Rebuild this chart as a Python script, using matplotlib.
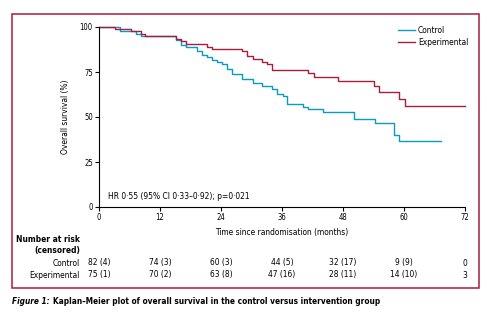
import matplotlib
matplotlib.use("Agg")
import matplotlib.pyplot as plt
from matplotlib.patches import Rectangle

plt.rcParams['font.family'] = ['DejaVu Sans']
plt.rcParams['font.stretch'] = 'condensed'

RED = '#a81d3d'
BLUE = '#0a9cbf'

# Kaplan-Meier steps (months, % surviving)
exp_t = [0, 3.1, 6.2, 8.2, 9.1, 15.1, 16.2, 17.2, 21.2, 22.2, 28.2, 29.2, 30.2,
         32.1, 33.1, 34.1, 41.2, 42.2, 47.1, 54.1, 55.1, 59.1, 60.1, 72]
exp_s = [100, 98.9, 97.6, 96.1, 95.0, 93.3, 92.0, 90.4, 89.1, 87.6, 86.5, 83.7, 82.2,
         80.6, 79.3, 76.0, 74.4, 72.0, 70.0, 67.0, 63.8, 59.8, 56.0, 56.0]

ctl_t = [0, 4.1, 7.2, 8.2, 15.1, 16.2, 17.2, 19.2, 20.2, 21.2, 22.2, 23.2, 24.1,
         25.1, 26.2, 28.2, 30.2, 32.1, 34.1, 35.1, 36.1, 37.0, 40.2, 41.2, 44.1,
         50.2, 54.2, 58.1, 59.1, 67.2]
ctl_s = [100, 97.6, 96.3, 95.0, 92.6, 90.2, 88.7, 86.9, 84.6, 83.1, 81.9, 80.7, 79.3,
         76.5, 73.8, 71.0, 68.9, 67.0, 65.4, 62.7, 61.5, 57.0, 55.6, 54.4, 52.7,
         48.7, 46.5, 40.0, 36.6, 36.6]

risk_times = [0, 12, 24, 36, 48, 60, 72]
ctl_risk = ['82 (4)', '74 (3)', '60 (3)', '44 (5)', '32 (17)', '9 (9)', '0']
exp_risk = ['75 (1)', '70 (2)', '63 (8)', '47 (16)', '28 (11)', '14 (10)', '3']

fig = plt.figure(figsize=(4.87, 3.20), dpi=100)
ax = fig.add_axes([99 / 487, 1 - 207 / 320, 366 / 487, 180 / 320])

ax.step(ctl_t, ctl_s, where='post', color=BLUE, lw=1.0, clip_on=False, label='Control')
ax.step(exp_t, exp_s, where='post', color=RED, lw=1.0, clip_on=False, label='Experimental')

ax.set_xlim(0, 72)
ax.set_ylim(0, 100)
ax.set_xticks(risk_times)
ax.set_yticks([0, 25, 50, 75, 100])
ax.spines['top'].set_visible(False)
ax.spines['right'].set_visible(False)
for sp in ['left', 'bottom']:
    ax.spines[sp].set_linewidth(0.8)
ax.tick_params(length=3, width=0.8, labelsize=5.5, pad=1.5, color='black')
ax.set_ylabel('Overall survival (%)', fontsize=6, labelpad=7)
ax.set_xlabel('Time since randomisation (months)', fontsize=6, labelpad=4)

leg = ax.legend(loc='upper right', bbox_to_anchor=(1.018, 1.025), frameon=False, fontsize=6,
                handlelength=2.0, handletextpad=0.35, labelspacing=0.35, borderaxespad=0)

ax.text(1.8, 5.7, 'HR 0·55 (95% CI 0·33–0·92); p=0·021', fontsize=6, va='center', ha='left')

# number at risk table
fs = 6
fig.text(80 / 487, 1 - 240 / 320, 'Number at risk', fontsize=fs, fontweight='bold',
         ha='right', va='center')
fig.text(80 / 487, 1 - 251 / 320, '(censored)', fontsize=fs, fontweight='bold',
         ha='right', va='center')
fig.text(80 / 487, 1 - 263 / 320, 'Control', fontsize=fs, ha='right', va='center')
fig.text(80 / 487, 1 - 275 / 320, 'Experimental', fontsize=fs, ha='right', va='center')
for t, c, e in zip(risk_times, ctl_risk, exp_risk):
    x_fig = fig.transFigure.inverted().transform(ax.transData.transform((t, 0)))[0]
    fig.text(x_fig, 1 - 263 / 320, c, fontsize=fs, ha='center', va='center')
    fig.text(x_fig, 1 - 275 / 320, e, fontsize=fs, ha='center', va='center')

# red frame around the figure panel
fig.patches.append(Rectangle((12 / 487, 1 - 288 / 320), 467 / 487, 274 / 320,
                             transform=fig.transFigure, fill=False, edgecolor=RED, lw=1.1))

# caption, shrunk so it spans the same width as in the original
cap_fs = 7.0
cap1 = fig.text(12 / 487, 1 - 302 / 320, 'Figure 1:', fontsize=cap_fs, fontweight='bold',
                fontstyle='italic', ha='left', va='center')
cap2 = fig.text(0, 1 - 302 / 320,
                'Kaplan–Meier plot of overall survival in the control versus intervention group',
                fontsize=cap_fs, fontweight='bold', ha='left', va='center')
fig.canvas.draw()
w = cap1.get_window_extent().width + 3 + cap2.get_window_extent().width
cap_fs = cap_fs * 366 / w
cap1.set_fontsize(cap_fs)
cap2.set_fontsize(cap_fs)
fig.canvas.draw()
bb = cap1.get_window_extent()
cap2.set_x((bb.x1 + 3) / fig.bbox.width)

fig.savefig('out.png', dpi=100)
